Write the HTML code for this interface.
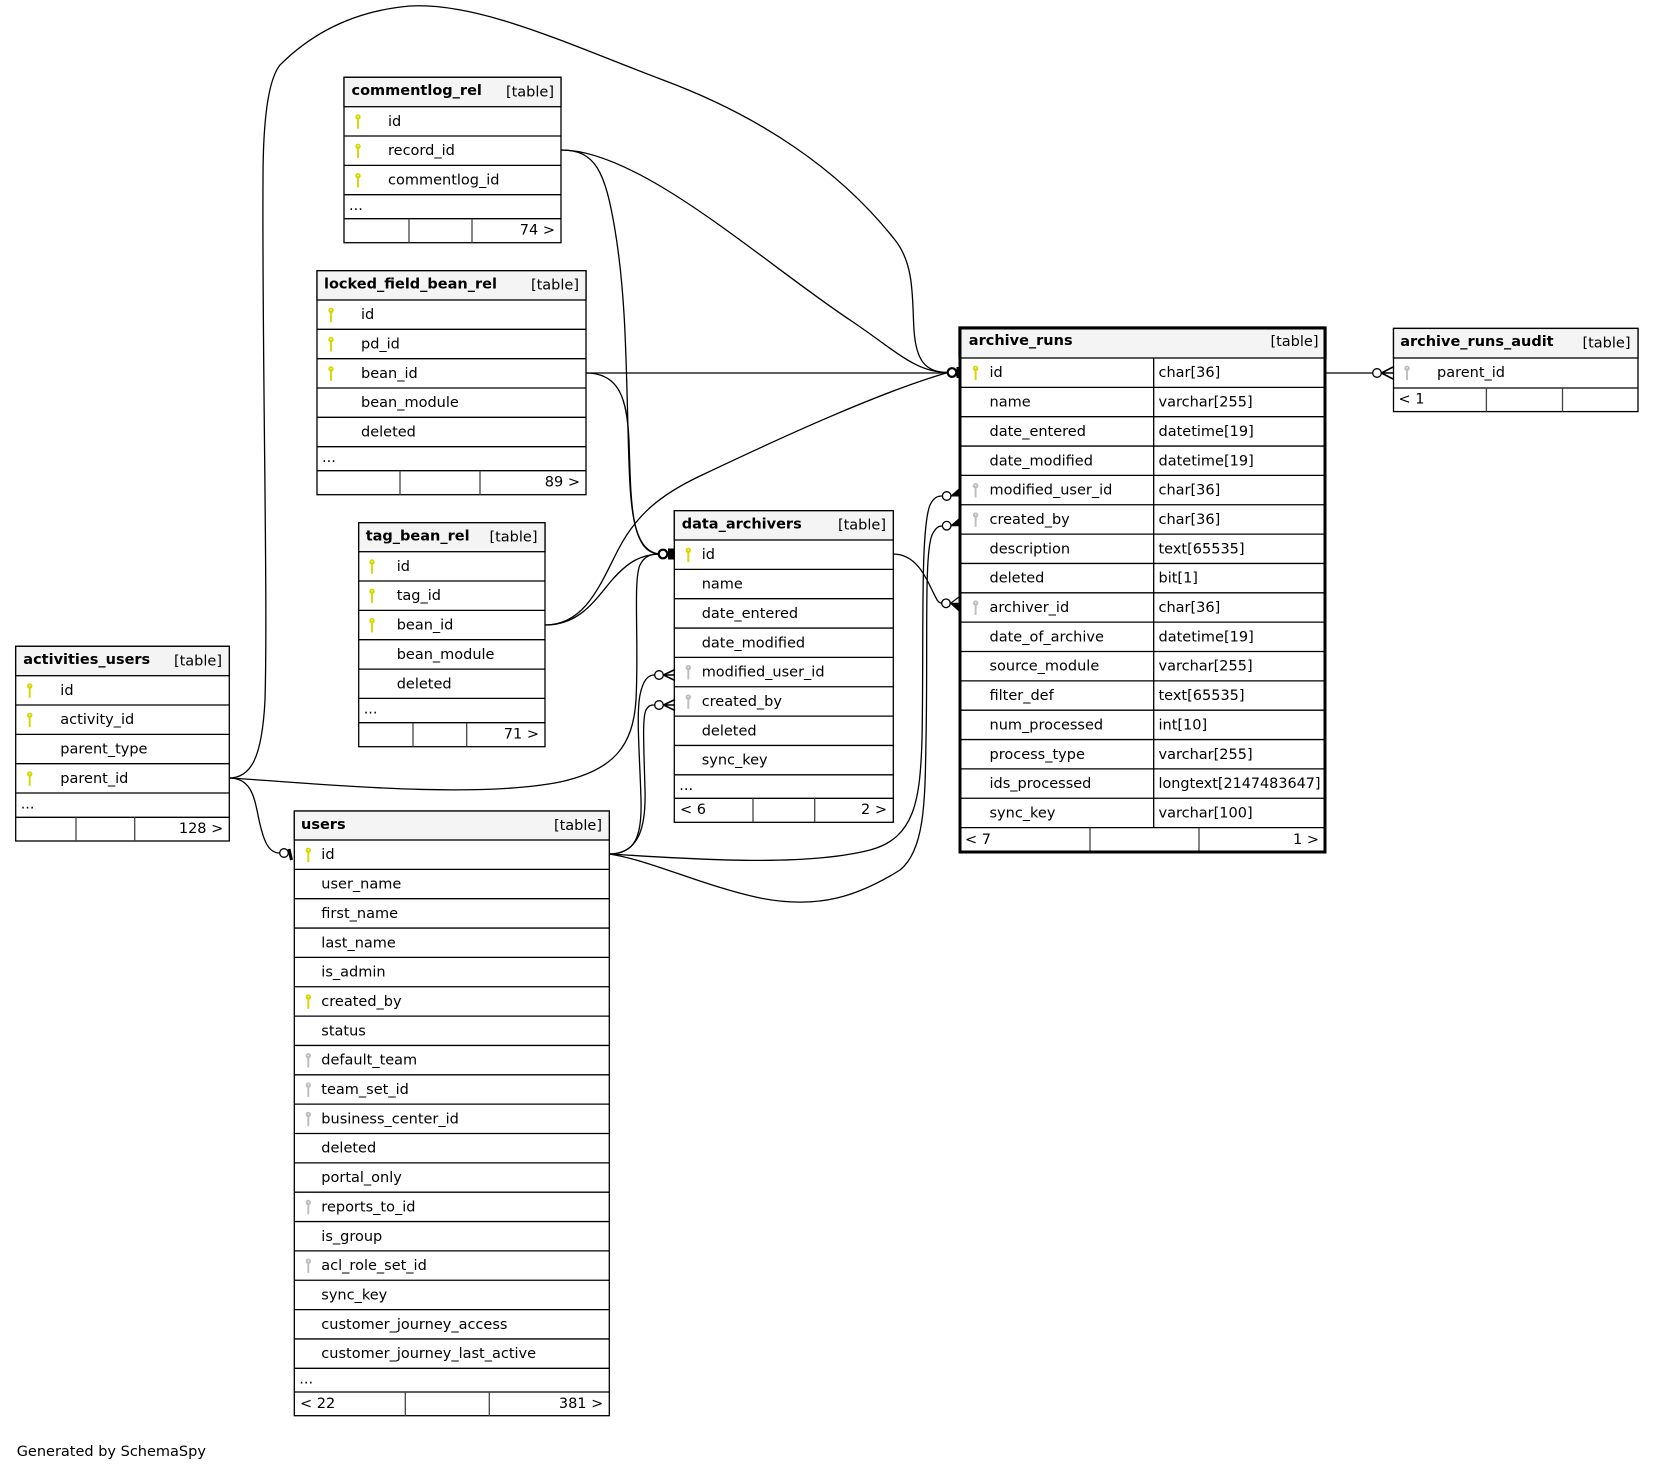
<!DOCTYPE html>
<html><head><meta charset="utf-8"><title>SchemaSpy diagram</title>
<style>
html,body{margin:0;padding:0;background:#fff;}
body{width:1655px;height:1471px;overflow:hidden;}
svg{display:block;}
</style></head>
<body>
<svg width="1655" height="1471" viewBox="0 0 1655 1471" xmlns="http://www.w3.org/2000/svg" xmlns:xlink="http://www.w3.org/1999/xlink" font-family="'DejaVu Sans','Liberation Sans',sans-serif" font-size="14.5" fill="#000">
<defs>
<g id="ky"><circle cx="0" cy="0" r="2.7" fill="#d6d600"/><circle cx="0" cy="-0.4" r="0.9" fill="#f4f490"/><rect x="-0.95" y="1.6" width="1.9" height="10.2" fill="#d6d600"/></g>
<g id="kg"><circle cx="0" cy="0" r="2.7" fill="#bdbdbd"/><circle cx="0" cy="-0.4" r="0.9" fill="#e6e6e6"/><rect x="-0.95" y="1.6" width="1.9" height="10.2" fill="#bdbdbd"/></g>
</defs>
<rect x="0" y="0" width="1655" height="1471" fill="#fff"/>

<!-- ================= EDGES ================= -->
<g fill="none" stroke="#000" stroke-width="1.3">
<path d="M229,778 C250,778 262,760 265,700 C268,600 262,350 263,180 C263,120 268,80 280,65 C300,45 340,12 410,6 C480,2 570,45 663,80 C760,116 840,170 895,240 C915,265 912,300 914,330 C916,360 925,372.5 948,372.5"/>
<path d="M229,778 C300,782 470,800 560,782 C615,770 633,745 636,700 C639,640 633,580 640,565 C645,555 652,554 659,554"/>
<path d="M229,778 C250,778 254,795 258,815 C263,840 268,853 279.5,853"/>
<path d="M561,150 C640,150 760,260 850,320 C895,350 915,372.5 948,372.5"/>
<path d="M561,150 C595,150 605,170 615,230 C625,290 626,350 628,430 C630,500 630,550 659,554"/>
<path d="M586,373 C620,373 627,400 629,440 C631,500 630,552 659,554"/>
<path d="M586,373 L948,373"/>
<path d="M545,625 C585,625 600,585 618,550 C636,515 660,495 700,476 C780,438 880,392 948,372.5"/>
<path d="M545,625 C580,625 595,600 612,580 C628,562 640,555 659,554"/>
<path d="M609,854 C636,854 642,835 641,800 C640,760 636,715 640,695 C643,680 648,675 654.5,675"/>
<path d="M609,854 C640,854 646,825 645,790 C644,750 642,718 646,710 C649,705 651,705 654.5,705"/>
<path d="M609,854 C680,858 800,868 870,850 C915,838 920,800 922,740 C924,640 920,530 930,505 C934,497 938,496 942,496"/>
<path d="M609,854 C650,860 700,885 760,898 C820,910 860,895 900,870 C925,850 925,800 926,740 C928,640 924,555 932,535 C936,527 939,526 942,526"/>
<path d="M893,554 C915,554 925,575 932,590 C937,600 938,603 941.5,603"/>
<path d="M1326,373 L1372.5,373"/>
</g>

<!-- ================= commentlog_rel ================= -->
<g>
<rect x="344" y="77.3" width="217" height="165.4" fill="#fff" stroke="#000" stroke-width="1.3"/>
<rect x="344" y="77.3" width="217" height="29.4" fill="#f4f4f4" stroke="#000" stroke-width="1.3"/>
<path d="M344 136H561M344 165.4H561M344 194.7H561M344 218.7H561" stroke="#000" stroke-width="1.3"/>
<path d="M409 218.7V242.7M472 218.7V242.7" stroke="#444" stroke-width="1.3"/>
<text x="351.5" y="95.1" font-weight="bold">commentlog_rel</text>
<text x="554" y="96.3" text-anchor="end">[table]</text>
<use xlink:href="#ky" x="358" y="117"/>
<use xlink:href="#ky" x="358" y="146.3"/>
<use xlink:href="#ky" x="358" y="175.7"/>
<text x="388" y="125.9">id</text>
<text x="388" y="155.2">record_id</text>
<text x="388" y="184.6">commentlog_id</text>
<text x="349" y="210">...</text>
<text x="555" y="234.5" text-anchor="end">74 &gt;</text>
</g>

<!-- ================= locked_field_bean_rel ================= -->
<g>
<rect x="317" y="270.7" width="269" height="224" fill="#fff" stroke="#000" stroke-width="1.3"/>
<rect x="317" y="270.7" width="269" height="29.3" fill="#f4f4f4" stroke="#000" stroke-width="1.3"/>
<path d="M317 329.3H586M317 358.7H586M317 388H586M317 417.3H586M317 446.7H586M317 470.7H586" stroke="#000" stroke-width="1.3"/>
<path d="M400 470.7V494.7M480 470.7V494.7" stroke="#444" stroke-width="1.3"/>
<text x="324" y="288.5" font-weight="bold">locked_field_bean_rel</text>
<text x="579" y="289.7" text-anchor="end">[table]</text>
<use xlink:href="#ky" x="331" y="310.3"/>
<use xlink:href="#ky" x="331" y="339.6"/>
<use xlink:href="#ky" x="331" y="369"/>
<text x="361" y="319.2">id</text>
<text x="361" y="348.5">pd_id</text>
<text x="361" y="377.9">bean_id</text>
<text x="361" y="407.2">bean_module</text>
<text x="361" y="436.5">deleted</text>
<text x="322" y="462">...</text>
<text x="580" y="486.5" text-anchor="end">89 &gt;</text>
</g>

<!-- ================= tag_bean_rel ================= -->
<g>
<rect x="358.7" y="522.7" width="186.3" height="224" fill="#fff" stroke="#000" stroke-width="1.3"/>
<rect x="358.7" y="522.7" width="186.3" height="29" fill="#f4f4f4" stroke="#000" stroke-width="1.3"/>
<path d="M358.7 581H545M358.7 610.4H545M358.7 639.7H545M358.7 669.1H545M358.7 698.4H545M358.7 722.7H545" stroke="#000" stroke-width="1.3"/>
<path d="M413 722.7V746.7M466.7 722.7V746.7" stroke="#444" stroke-width="1.3"/>
<text x="365.7" y="540.5" font-weight="bold">tag_bean_rel</text>
<text x="537.5" y="541.7" text-anchor="end">[table]</text>
<use xlink:href="#ky" x="372" y="562"/>
<use xlink:href="#ky" x="372" y="591.3"/>
<use xlink:href="#ky" x="372" y="620.7"/>
<text x="396.7" y="570.9">id</text>
<text x="396.7" y="600.2">tag_id</text>
<text x="396.7" y="629.6">bean_id</text>
<text x="396.7" y="658.9">bean_module</text>
<text x="396.7" y="688.3">deleted</text>
<text x="363.7" y="713.7">...</text>
<text x="539" y="738.5" text-anchor="end">71 &gt;</text>
</g>

<!-- ================= activities_users ================= -->
<g>
<rect x="15.7" y="646.3" width="213.6" height="194.7" fill="#fff" stroke="#000" stroke-width="1.3"/>
<rect x="15.7" y="646.3" width="213.6" height="29.4" fill="#f4f4f4" stroke="#000" stroke-width="1.3"/>
<path d="M15.7 705H229.3M15.7 734.4H229.3M15.7 763.7H229.3M15.7 793H229.3M15.7 817.3H229.3" stroke="#000" stroke-width="1.3"/>
<path d="M76 817.3V841M134.7 817.3V841" stroke="#444" stroke-width="1.3"/>
<text x="23.3" y="664.1" font-weight="bold">activities_users</text>
<text x="222" y="665.3" text-anchor="end">[table]</text>
<use xlink:href="#ky" x="29.7" y="686"/>
<use xlink:href="#ky" x="29.7" y="715.3"/>
<use xlink:href="#ky" x="29.7" y="774"/>
<text x="60.3" y="694.9">id</text>
<text x="60.3" y="724.2">activity_id</text>
<text x="60.3" y="753.6">parent_type</text>
<text x="60.3" y="782.9">parent_id</text>
<text x="20.7" y="808.3">...</text>
<text x="223.3" y="833.1" text-anchor="end">128 &gt;</text>
</g>

<!-- ================= users ================= -->
<g>
<rect x="294.3" y="811" width="315" height="604.7" fill="#fff" stroke="#000" stroke-width="1.3"/>
<rect x="294.3" y="811" width="315" height="29" fill="#f4f4f4" stroke="#000" stroke-width="1.3"/>
<path d="M294.3 869.35H609.3M294.3 898.7H609.3M294.3 928.05H609.3M294.3 957.4H609.3M294.3 986.75H609.3M294.3 1016.1H609.3M294.3 1045.45H609.3M294.3 1074.8H609.3M294.3 1104.15H609.3M294.3 1133.5H609.3M294.3 1162.85H609.3M294.3 1192.2H609.3M294.3 1221.55H609.3M294.3 1250.9H609.3M294.3 1280.25H609.3M294.3 1309.6H609.3M294.3 1338.95H609.3M294.3 1368.3H609.3M294.3 1392H609.3" stroke="#000" stroke-width="1.3"/>
<path d="M405.3 1392V1415.7M489.3 1392V1415.7" stroke="#444" stroke-width="1.3"/>
<text x="301" y="828.8" font-weight="bold">users</text>
<text x="602" y="830" text-anchor="end">[table]</text>
<use xlink:href="#ky" x="308.3" y="850.3"/>
<use xlink:href="#ky" x="308.3" y="997.05"/>
<use xlink:href="#kg" x="308.3" y="1055.75"/>
<use xlink:href="#kg" x="308.3" y="1085.1"/>
<use xlink:href="#kg" x="308.3" y="1114.45"/>
<use xlink:href="#kg" x="308.3" y="1202.5"/>
<use xlink:href="#kg" x="308.3" y="1261.2"/>
<text x="321.3" y="859.2">id</text>
<text x="321.3" y="888.55">user_name</text>
<text x="321.3" y="917.9">first_name</text>
<text x="321.3" y="947.25">last_name</text>
<text x="321.3" y="976.6">is_admin</text>
<text x="321.3" y="1005.95">created_by</text>
<text x="321.3" y="1035.3">status</text>
<text x="321.3" y="1064.65">default_team</text>
<text x="321.3" y="1094">team_set_id</text>
<text x="321.3" y="1123.35">business_center_id</text>
<text x="321.3" y="1152.7">deleted</text>
<text x="321.3" y="1182.05">portal_only</text>
<text x="321.3" y="1211.4">reports_to_id</text>
<text x="321.3" y="1240.75">is_group</text>
<text x="321.3" y="1270.1">acl_role_set_id</text>
<text x="321.3" y="1299.45">sync_key</text>
<text x="321.3" y="1328.8">customer_journey_access</text>
<text x="321.3" y="1358.15">customer_journey_last_active</text>
<text x="299.3" y="1383.5">...</text>
<text x="300" y="1407.8">&lt; 22</text>
<text x="603.3" y="1407.8" text-anchor="end">381 &gt;</text>
</g>

<!-- ================= data_archivers ================= -->
<g>
<rect x="674.3" y="510.7" width="219" height="311.6" fill="#fff" stroke="#000" stroke-width="1.3"/>
<rect x="674.3" y="510.7" width="219" height="29.3" fill="#f4f4f4" stroke="#000" stroke-width="1.3"/>
<path d="M674.3 569.35H893.3M674.3 598.7H893.3M674.3 628.05H893.3M674.3 657.4H893.3M674.3 686.75H893.3M674.3 716.1H893.3M674.3 745.45H893.3M674.3 774.8H893.3M674.3 798.3H893.3" stroke="#000" stroke-width="1.3"/>
<path d="M753 798.3V822.3M814.7 798.3V822.3" stroke="#444" stroke-width="1.3"/>
<text x="681.7" y="528.5" font-weight="bold">data_archivers</text>
<text x="886" y="529.7" text-anchor="end">[table]</text>
<use xlink:href="#ky" x="688.3" y="550.3"/>
<use xlink:href="#kg" x="688.3" y="667.7"/>
<use xlink:href="#kg" x="688.3" y="697.05"/>
<text x="701.7" y="559.2">id</text>
<text x="701.7" y="588.55">name</text>
<text x="701.7" y="617.9">date_entered</text>
<text x="701.7" y="647.25">date_modified</text>
<text x="701.7" y="676.6">modified_user_id</text>
<text x="701.7" y="705.95">created_by</text>
<text x="701.7" y="735.3">deleted</text>
<text x="701.7" y="764.65">sync_key</text>
<text x="679.3" y="790">...</text>
<text x="680" y="814.1">&lt; 6</text>
<text x="887" y="814.1" text-anchor="end">2 &gt;</text>
</g>

<!-- ================= archive_runs ================= -->
<g>
<rect x="959" y="327" width="367" height="526" fill="#fff" stroke="none"/>
<rect x="959" y="327" width="367" height="31" fill="#f4f4f4" stroke="#000" stroke-width="1.3"/>
<path d="M959 387.35H1326M959 416.7H1326M959 446.05H1326M959 475.4H1326M959 504.75H1326M959 534.1H1326M959 563.45H1326M959 592.8H1326M959 622.15H1326M959 651.5H1326M959 680.85H1326M959 710.2H1326M959 739.55H1326M959 768.9H1326M959 798.25H1326M959 827.6H1326" stroke="#000" stroke-width="1.3"/>
<path d="M1153.7 358V827.6" stroke="#000" stroke-width="1.3"/>
<path d="M1090 827.6V853M1199 827.6V853" stroke="#444" stroke-width="1.3"/>
<rect x="960" y="328" width="365" height="524" fill="none" stroke="#000" stroke-width="3"/>
<text x="968.8" y="344.8" font-weight="bold">archive_runs</text>
<text x="1318.5" y="346" text-anchor="end">[table]</text>
<use xlink:href="#ky" x="975.6" y="368.3"/>
<use xlink:href="#kg" x="975.6" y="485.7"/>
<use xlink:href="#kg" x="975.6" y="515.05"/>
<use xlink:href="#kg" x="975.6" y="603.1"/>
<text x="989.5" y="377.2">id</text><text x="1158.5" y="377.2">char[36]</text>
<text x="989.5" y="406.55">name</text><text x="1158.5" y="406.55">varchar[255]</text>
<text x="989.5" y="435.9">date_entered</text><text x="1158.5" y="435.9">datetime[19]</text>
<text x="989.5" y="465.25">date_modified</text><text x="1158.5" y="465.25">datetime[19]</text>
<text x="989.5" y="494.6">modified_user_id</text><text x="1158.5" y="494.6">char[36]</text>
<text x="989.5" y="523.95">created_by</text><text x="1158.5" y="523.95">char[36]</text>
<text x="989.5" y="553.3">description</text><text x="1158.5" y="553.3">text[65535]</text>
<text x="989.5" y="582.65">deleted</text><text x="1158.5" y="582.65">bit[1]</text>
<text x="989.5" y="612">archiver_id</text><text x="1158.5" y="612">char[36]</text>
<text x="989.5" y="641.35">date_of_archive</text><text x="1158.5" y="641.35">datetime[19]</text>
<text x="989.5" y="670.7">source_module</text><text x="1158.5" y="670.7">varchar[255]</text>
<text x="989.5" y="700.05">filter_def</text><text x="1158.5" y="700.05">text[65535]</text>
<text x="989.5" y="729.4">num_processed</text><text x="1158.5" y="729.4">int[10]</text>
<text x="989.5" y="758.75">process_type</text><text x="1158.5" y="758.75">varchar[255]</text>
<text x="989.5" y="788.1">ids_processed</text><text x="1158.5" y="788.1" textLength="162" lengthAdjust="spacingAndGlyphs">longtext[2147483647]</text>
<text x="989.5" y="817.45">sync_key</text><text x="1158.5" y="817.45">varchar[100]</text>
<text x="965" y="844">&lt; 7</text>
<text x="1319" y="844" text-anchor="end">1 &gt;</text>
</g>

<!-- ================= archive_runs_audit ================= -->
<g>
<rect x="1393.5" y="328.4" width="244.5" height="83.2" fill="#fff" stroke="#000" stroke-width="1.3"/>
<rect x="1393.5" y="328.4" width="244.5" height="29.6" fill="#f4f4f4" stroke="#000" stroke-width="1.3"/>
<path d="M1393.5 388H1638" stroke="#000" stroke-width="1.3"/>
<path d="M1486.4 388V411.6M1562.5 388V411.6" stroke="#444" stroke-width="1.3"/>
<text x="1400.2" y="346.2" font-weight="bold">archive_runs_audit</text>
<text x="1630.5" y="347.4" text-anchor="end">[table]</text>
<use xlink:href="#kg" x="1407" y="368.3"/>
<text x="1437" y="377.2">parent_id</text>
<text x="1398.5" y="403.5">&lt; 1</text>
</g>

<!-- ================= MARKERS ================= -->
<g stroke="#000" stroke-width="1.3" fill="#fff">
<!-- users.id from activities -->
<circle cx="284" cy="853" r="4.3"/>
<path d="M289 849L291.5 860" stroke-width="3" fill="none"/>
<!-- data_archivers.id -->
<circle cx="663" cy="554" r="4.3" stroke-width="2.2"/>
<rect x="668" y="548.5" width="6" height="11" fill="#000" stroke="none"/>
<path d="M667 554L674 549M667 554L674 559" fill="none" stroke-width="1.6"/>
<!-- data_archivers modified_user_id / created_by -->
<circle cx="659" cy="675" r="4.3"/>
<path d="M663.5 675L675 669.5M663.5 675L675 675M663.5 675L675 680.5" fill="none" stroke-width="1.6"/>
<circle cx="659" cy="705" r="4.3"/>
<path d="M663.5 705L675 699.5M663.5 705L675 705M663.5 705L675 710.5" fill="none" stroke-width="1.6"/>
<!-- archive_runs.id -->
<circle cx="952" cy="372.5" r="4.3" stroke-width="2.2"/>
<rect x="956.5" y="367" width="3" height="11" fill="#000" stroke="none"/>
<!-- archive_runs modified/created/archiver -->
<circle cx="946.7" cy="496" r="4.3"/>
<path d="M951 496L959 489L959 496Z" fill="#000" stroke-width="1"/>
<circle cx="946.7" cy="525.7" r="4.3"/>
<path d="M951 525.7L959 518.7L959 525.7Z" fill="#000" stroke-width="1"/>
<circle cx="946" cy="603.3" r="4.3"/>
<path d="M950.5 603.3L959 603.3L959 611Z" fill="#000" stroke-width="1"/>
<path d="M950.5 603.3L959 597" fill="none" stroke-width="1.2"/>
<!-- archive_runs_audit.parent_id -->
<circle cx="1377" cy="373" r="4.3"/>
<path d="M1381.5 373L1393 367M1381.5 373L1393 373M1381.5 373L1393 379" fill="none" stroke-width="1.6"/>
</g>

<text x="16.7" y="1456">Generated by SchemaSpy</text>
</svg>
</body></html>
